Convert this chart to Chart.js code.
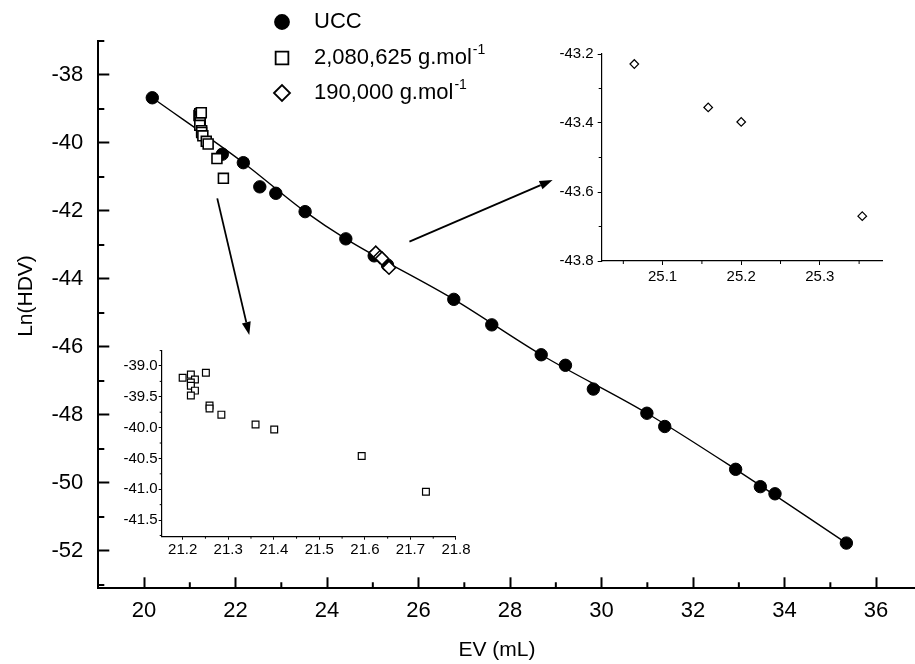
<!DOCTYPE html>
<html>
<head>
<meta charset="utf-8">
<script src="https://cdn.jsdelivr.net/npm/chart.js"></script>
<style>
  html, body { margin: 0; padding: 0; background: #fff; }
  #wrap { position: relative; width: 915px; height: 664px; background: #fff; }
  #wrap canvas { position: absolute; left: 0; top: 0; }
</style>
</head>
<body>
<div id="wrap">
  <canvas id="mainChart" width="915" height="664"></canvas>
  <canvas id="inset1" width="915" height="664"></canvas>
  <canvas id="inset2" width="915" height="664"></canvas>
</div>
<script>
// UCC calibration points (EV in mL, Ln(HDV))
const uccEV = [20.18, 21.71, 22.17, 22.53, 22.88, 23.52, 24.41, 25.03, 25.32, 26.77,
               27.60, 28.68, 29.21, 29.82, 30.99, 31.38, 32.93, 33.47, 33.79, 35.35];
const uccLn = [-38.67, -40.33, -40.58, -41.29, -41.48, -42.02, -42.82, -43.32, -43.59, -44.60,
               -45.35, -46.23, -46.54, -47.24, -47.95, -48.34, -49.60, -50.11, -50.32, -51.77];

// calibration curve
const fitEV = [20.18, 22.17, 23.52, 24.41, 26.77, 28.68, 30.99, 32.93, 35.35];
const fitLn = [-38.67, -40.58, -42.02, -42.82, -44.60, -46.23, -47.95, -49.60, -51.77];

// 2,080,625 g/mol sample
const bigEV = [21.200, 21.218, 21.227, 21.218, 21.218, 21.227, 21.218, 21.251,
               21.259, 21.259, 21.285, 21.360, 21.401, 21.593, 21.734];
const bigLn = [-39.19, -39.14, -39.22, -39.27, -39.32, -39.40, -39.48, -39.11,
               -39.64, -39.69, -39.79, -39.95, -40.03, -40.46, -41.04];

// 190,000 g/mol sample
const smallEV = [25.064, 25.158, 25.200, 25.354];
const smallLn = [-43.229, -43.355, -43.397, -43.670];

const legendNames = ['UCC', '2,080,625 g.mol', '190,000 g.mol'];
const legendSups = ['', '-1', '-1'];

// tick values
const xTicks = [20, 22, 24, 26, 28, 30, 32, 34, 36];
const xMinor = [21, 23, 25, 27, 29, 31, 33, 35];
const yTicks = [-38, -40, -42, -44, -46, -48, -50, -52];
const yMinor = [-37, -39, -41, -43, -45, -47, -49, -51, -53];

const in1XTicks = [21.2, 21.3, 21.4, 21.5, 21.6, 21.7, 21.8];
const in1XMinor = [21.25, 21.35, 21.45, 21.55, 21.65, 21.75];
const in1YTicks = [-39.0, -39.5, -40.0, -40.5, -41.0, -41.5];
const in1YMinor = [-38.75, -39.25, -39.75, -40.25, -40.75, -41.25, -41.75];

const in2XTicks = [25.1, 25.2, 25.3];
const in2XMinor = [25.05, 25.15, 25.25, 25.35];
const in2YTicks = [-43.2, -43.4, -43.6, -43.8];
const in2YMinor = [-43.3, -43.5, -43.7];

// arrows from the main plot to the insets
const arrowFromEV = [21.60, 25.80];
const arrowFromLn = [-41.63, -42.90];
const arrowToEV = [22.30, 28.93];
const arrowToLn = [-45.65, -41.09];

const xTitle = 'EV (mL)';
const yTitle = 'Ln(HDV)';

const FONT = "'Liberation Sans', Arial, sans-serif";
Chart.defaults.font.family = FONT;
Chart.defaults.color = '#000';

function pts(xs, ys) {
    return xs.map((x, i) => ({x: x, y: ys[i]}));
}

function drawMarker(ctx, style, x, y, r) {
    ctx.beginPath();
    if (style === 'circle') {
        ctx.arc(x, y, r, 0, Math.PI * 2);
    } else if (style === 'rect') {
        const s = r * Math.SQRT1_2;
        ctx.rect(x - s, y - s, 2 * s, 2 * s);
    } else {
        ctx.moveTo(x - r, y);
        ctx.lineTo(x, y - r);
        ctx.lineTo(x + r, y);
        ctx.lineTo(x, y + r);
        ctx.closePath();
    }
    ctx.fill();
    ctx.stroke();
}

// short unlabeled ticks between the labeled ones
const minorTicksPlugin = {
    id: 'minorTicks',
    afterDraw(chart, args, opts) {
        const ctx = chart.ctx;
        ctx.save();
        ctx.strokeStyle = '#000';
        ctx.lineWidth = opts.width || 1;
        ctx.beginPath();
        const sx = chart.scales.x, sy = chart.scales.y;
        const dir = opts.inward ? -1 : 1;
        opts.x.forEach(v => {
            const px = sx.getPixelForValue(v);
            ctx.moveTo(px, sx.top);
            ctx.lineTo(px, sx.top + dir * opts.len);
        });
        opts.y.forEach(v => {
            const py = sy.getPixelForValue(v);
            ctx.moveTo(sy.right, py);
            ctx.lineTo(sy.right - dir * opts.len, py);
        });
        ctx.stroke();
        ctx.restore();
    }
};
Chart.register(minorTicksPlugin);

const legendPlugin = {
    id: 'floatLegend',
    afterDraw(chart) {
        const ctx = chart.ctx;
        const rowsY = [22, 58, 93];
        const markX = 282, textX = 314;
        ctx.save();
        chart.data.datasets.filter(d => d.legendIndex !== undefined).forEach(ds => {
            const i = ds.legendIndex;
            const y = rowsY[i];
            ctx.fillStyle = ds.backgroundColor;
            ctx.strokeStyle = '#000';
            ctx.lineWidth = 1.8;
            drawMarker(ctx, ds.pointStyle, markX, y, ds.legendRadius);
            ctx.fillStyle = '#000';
            ctx.textBaseline = 'middle';
            ctx.textAlign = 'left';
            ctx.font = '22px ' + FONT;
            ctx.fillText(legendNames[i], textX, y);
            if (legendSups[i]) {
                const w = ctx.measureText(legendNames[i]).width;
                ctx.font = '14px ' + FONT;
                ctx.fillText(legendSups[i], textX + w + 1, y - 8);
            }
        });
        // axis titles, placed off-centre as in the figure
        ctx.font = '21px ' + FONT;
        ctx.textAlign = 'center';
        ctx.fillText(xTitle, 497, 650);
        ctx.translate(26, 296);
        ctx.rotate(-Math.PI / 2);
        ctx.fillText(yTitle, 0, 0);
        ctx.restore();
    }
};

const arrowPlugin = {
    id: 'arrows',
    afterDatasetsDraw(chart) {
        const ctx = chart.ctx;
        const sx = chart.scales.x, sy = chart.scales.y;
        ctx.save();
        ctx.strokeStyle = '#000';
        ctx.fillStyle = '#000';
        ctx.lineWidth = 1.8;
        for (let i = 0; i < arrowFromEV.length; i++) {
            const x1 = sx.getPixelForValue(arrowFromEV[i]);
            const y1 = sy.getPixelForValue(arrowFromLn[i]);
            const x2 = sx.getPixelForValue(arrowToEV[i]);
            const y2 = sy.getPixelForValue(arrowToLn[i]);
            const a = Math.atan2(y2 - y1, x2 - x1);
            const head = 13, half = 4.5;
            const bx = x2 - head * Math.cos(a), by = y2 - head * Math.sin(a);
            ctx.beginPath();
            ctx.moveTo(x1, y1);
            ctx.lineTo(bx, by);
            ctx.stroke();
            ctx.beginPath();
            ctx.moveTo(x2, y2);
            ctx.lineTo(bx + half * Math.sin(a), by - half * Math.cos(a));
            ctx.lineTo(bx - half * Math.sin(a), by + half * Math.cos(a));
            ctx.closePath();
            ctx.fill();
        }
        ctx.restore();
    }
};

// keep the plot box exactly where it is in the figure
function fixHeight(h) {
    return s => { s.height = h; s.paddingLeft = 0; s.paddingRight = 0; s.paddingTop = 0; s.paddingBottom = 0; };
}
function fixWidth(w) {
    return s => { s.width = w; s.paddingLeft = 0; s.paddingRight = 0; s.paddingTop = 0; s.paddingBottom = 0; };
}

new Chart(document.getElementById('mainChart'), {
    type: 'scatter',
    data: {
        datasets: [
            {
                label: '190,000 g.mol-1', legendIndex: 2, legendRadius: 8,
                data: pts(smallEV, smallLn), order: 1,
                pointStyle: 'rectRot', pointRadius: 6.5,
                backgroundColor: '#fff', borderColor: '#000', borderWidth: 1.6
            },
            {
                label: '2,080,625 g.mol-1', legendIndex: 1, legendRadius: 9,
                data: pts(bigEV, bigLn), order: 2,
                pointStyle: 'rect', pointRadius: 7,
                backgroundColor: '#fff', borderColor: '#000', borderWidth: 1.6
            },
            {
                label: 'UCC', legendIndex: 0, legendRadius: 7,
                data: pts(uccEV, uccLn), order: 3,
                pointStyle: 'circle', pointRadius: 6.2,
                backgroundColor: '#000', borderColor: '#000', borderWidth: 1
            },
            {
                label: 'fit', type: 'line',
                data: pts(fitEV, fitLn), order: 4,
                showLine: true, pointRadius: 0, fill: false,
                borderColor: '#000', borderWidth: 1.4,
                cubicInterpolationMode: 'monotone'
            }
        ]
    },
    options: {
        responsive: false,
        animation: false,
        layout: {autoPadding: false, padding: {top: 41, right: 0, bottom: 0, left: 0}},
        plugins: {
            legend: {display: false},
            tooltip: {enabled: false},
            minorTicks: {x: xMinor, y: yMinor, len: 6, inward: true, width: 2}
        },
        scales: {
            x: {
                type: 'linear', min: 19, max: 36.85,
                afterBuildTicks: s => { s.ticks = xTicks.map(v => ({value: v})); },
                afterFit: fixHeight(664 - 588.3),
                grid: {drawOnChartArea: false, tickLength: -11, tickWidth: 2, tickColor: '#000'},
                border: {color: '#000', width: 2},
                ticks: {font: {size: 22}, padding: 20, maxRotation: 0, autoSkip: false},
                title: {display: false}
            },
            y: {
                type: 'linear', min: -53.1, max: -37,
                afterBuildTicks: s => { s.ticks = yTicks.map(v => ({value: v})); },
                afterFit: fixWidth(98.3),
                grid: {drawOnChartArea: false, tickLength: -11, tickWidth: 2, tickColor: '#000'},
                border: {color: '#000', width: 2},
                ticks: {font: {size: 22}, padding: 26, autoSkip: false},
                title: {display: false}
            }
        }
    },
    plugins: [arrowPlugin, legendPlugin]
});

function insetScales(xr, yr, xt, yt, box, tl, xpad, ypad) {
    return {
        x: {
            type: 'linear', min: xr[0], max: xr[1],
            afterBuildTicks: s => { s.ticks = xt.map(v => ({value: v})); },
            afterFit: fixHeight(664 - box.bottom),
            grid: {drawOnChartArea: false, tickLength: tl, tickWidth: 1, tickColor: '#000'},
            border: {color: '#000', width: 1.2},
            ticks: {font: {size: 15}, padding: xpad, maxRotation: 0, autoSkip: false,
                    callback: v => v.toFixed(1)}
        },
        y: {
            type: 'linear', min: yr[0], max: yr[1],
            afterBuildTicks: s => { s.ticks = yt.map(v => ({value: v})); },
            afterFit: fixWidth(box.left),
            grid: {drawOnChartArea: false, tickLength: tl, tickWidth: 1, tickColor: '#000'},
            border: {color: '#000', width: 1.2},
            ticks: {font: {size: 15}, padding: ypad, autoSkip: false,
                    callback: v => v.toFixed(1)}
        }
    };
}

new Chart(document.getElementById('inset1'), {
    type: 'scatter',
    data: {
        datasets: [{
            label: '2,080,625 g.mol-1',
            data: pts(bigEV, bigLn),
            pointStyle: 'rect', pointRadius: 4.8,
            backgroundColor: '#fff', borderColor: '#000', borderWidth: 1.2
        }]
    },
    options: {
        responsive: false,
        animation: false,
        layout: {autoPadding: false, padding: {top: 351, right: 915 - 456, bottom: 0, left: 0}},
        plugins: {
            legend: {display: false},
            tooltip: {enabled: false},
            minorTicks: {x: in1XMinor, y: in1YMinor, len: 2, inward: false, width: 1}
        },
        scales: insetScales([21.154, 21.8], [-41.77, -38.757], in1XTicks, in1YTicks,
                            {left: 161.7, bottom: 536.7}, 3, 1, 1)
    }
});

new Chart(document.getElementById('inset2'), {
    type: 'scatter',
    data: {
        datasets: [{
            label: '190,000 g.mol-1',
            data: pts(smallEV, smallLn),
            pointStyle: 'rectRot', pointRadius: 4.3,
            backgroundColor: '#fff', borderColor: '#000', borderWidth: 1.2
        }]
    },
    options: {
        responsive: false,
        animation: false,
        layout: {autoPadding: false, padding: {top: 54, right: 915 - 882.7, bottom: 0, left: 0}},
        plugins: {
            legend: {display: false},
            tooltip: {enabled: false},
            minorTicks: {x: in2XMinor, y: in2YMinor, len: 3, inward: false, width: 1}
        },
        scales: insetScales([25.0225, 25.38], [-43.8, -43.2], in2XTicks, in2YTicks,
                            {left: 601.7, bottom: 261}, 4, 3, 4)
    }
});
</script>
</body>
</html>
